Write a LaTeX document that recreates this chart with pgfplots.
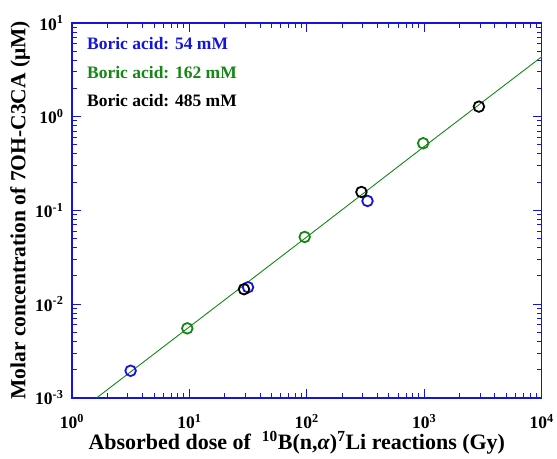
\documentclass[border=0pt]{standalone}
\usepackage{fontspec}
\setmainfont{Liberation Serif}
\usepackage{pgfplots}
\pgfplotsset{compat=1.18}
\definecolor{myblue}{RGB}{20,20,220}
\definecolor{mygreen}{RGB}{20,135,20}
\begin{document}
\begin{tikzpicture}
\begin{axis}[
    xmode=log, ymode=log,
    scale only axis,
    width=470pt, height=375pt,
    xmin=1, xmax=10000,
    ymin=0.001, ymax=10,
    xtick={1,10,100,1000,10000},
    xticklabels={\textbf{10\textsuperscript{0}},\textbf{10\textsuperscript{1}},\textbf{10\textsuperscript{2}},\textbf{10\textsuperscript{3}},\textbf{10\textsuperscript{4}}},
    ytick={0.001,0.01,0.1,1,10},
    yticklabels={\textbf{10\textsuperscript{-3}},\textbf{10\textsuperscript{-2}},\textbf{10\textsuperscript{-1}},\textbf{10\textsuperscript{0}},\textbf{10\textsuperscript{1}}},
    tick label style={font=\fontsize{17.5}{20}\selectfont},
    xticklabel style={anchor=center, yshift=-24pt},
    yticklabel style={anchor=east, xshift=-5pt},
    xlabel={\textbf{Absorbed dose of \ \textsuperscript{10}B(n,\textit{α})\textsuperscript{7}Li reactions (Gy)}},
    ylabel={\textbf{Molar concentration of 7OH-C3CA (μM)}},
    xlabel style={font=\fontsize{22}{24}\selectfont, at={(axis description cs:0.5,0)}, anchor=center, yshift=-45pt, xshift=-10pt},
    ylabel style={font=\fontsize{21.5}{24}\selectfont, at={(axis description cs:0,0.5)}, anchor=center, yshift=52pt},
    axis line style={draw=myblue, line width=1.7pt},
    every tick/.style={myblue, line width=1pt},
    major tick length=9pt,
    minor tick length=5pt,
    tick align=inside,
    xtick pos=both, ytick pos=both,
    clip=false,
]
\path ([xshift=-72pt,yshift=-61pt]rel axis cs:0,0) -- ([xshift=13pt,yshift=23pt]rel axis cs:1,1);
\draw[myblue, line width=1.7pt] (rel axis cs:0,0) rectangle (rel axis cs:1,1);
\addplot[mygreen, line width=0.9pt] coordinates {
    (1.63,0.001) (10,0.0057) (100,0.052) (1000,0.48) (10000,4.35)
};
\addplot[only marks, mark=o, mark size=5.3pt, line width=1.8pt, myblue] coordinates {
    (3.16,0.00194) (31.6,0.0151) (329,0.126)
};
\addplot[only marks, mark=o, mark size=5.3pt, line width=1.8pt, mygreen] coordinates {
    (9.6,0.0055) (96,0.052) (980,0.52)
};
\addplot[only marks, mark=o, mark size=5.3pt, line width=1.8pt, black] coordinates {
    (29.2,0.0144) (292,0.157) (2924,1.28)
};
\node[anchor=west, font=\fontsize{17.5}{20}\selectfont\bfseries, text=myblue] at (rel axis cs:0.025,0.944) {Boric acid: 54 mM};
\node[anchor=west, font=\fontsize{17.5}{20}\selectfont\bfseries, text=mygreen] at (rel axis cs:0.025,0.867) {Boric acid: 162 mM};
\node[anchor=west, font=\fontsize{17.5}{20}\selectfont\bfseries, text=black] at (rel axis cs:0.025,0.793) {Boric acid: 485 mM};
\end{axis}
\end{tikzpicture}
\end{document}
